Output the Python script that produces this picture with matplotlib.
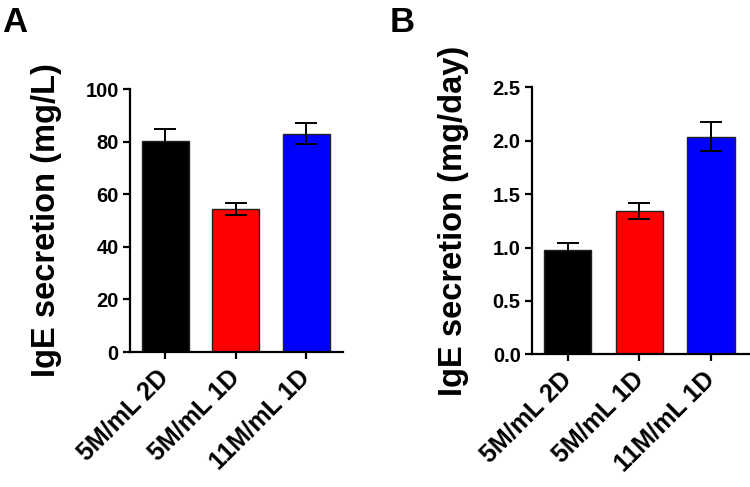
import matplotlib
matplotlib.use('Agg')
import matplotlib.pyplot as plt
import numpy as np

plt.rcParams['font.family'] = ['Liberation Sans', 'DejaVu Sans']
plt.rcParams['font.weight'] = 'bold'

groups = ['5M/mL 2D', '5M/mL 1D', '11M/mL 1D']
colors = ['#000000', '#ff0000', '#0000ff']

# panel A: IgE concentration (mg/L)
conc_mean = [80.3, 54.5, 83.0]
conc_err = [4.5, 2.3, 4.0]

# panel B: IgE production rate (mg/day)
rate_mean = [0.98, 1.34, 2.04]
rate_err = [0.065, 0.076, 0.135]


def draw_panel(ax, means, errs, ylim, yticks, yfmt, ylabel):
    x = np.arange(len(groups))
    ax.bar(x, means, width=0.66, color=colors, edgecolor='#222222', linewidth=1.0, zorder=2)
    ax.errorbar(x, means, yerr=errs, fmt='none', ecolor='black', elinewidth=1.4,
                capsize=8, capthick=1.4, zorder=3)
    ax.set_xlim(-0.5, 2.52)
    ax.set_ylim(*ylim)
    ax.set_yticks(yticks)
    ax.set_yticklabels([yfmt % v for v in yticks])
    ax.set_xticks(x)
    ax.set_xticklabels(groups, rotation=45, ha='right', va='center', rotation_mode='anchor')
    for s in ['top', 'right']:
        ax.spines[s].set_visible(False)
    for s in ['left', 'bottom']:
        ax.spines[s].set_linewidth(1.6)
    ax.tick_params(width=1.6, length=5)
    ax.tick_params(axis='y', labelsize=14.5, pad=3)
    ax.tick_params(axis='x', labelsize=18, pad=10.5)
    ax.set_ylabel(ylabel, fontsize=23.5, fontweight='bold', labelpad=17)


fig = plt.figure(figsize=(7.5, 4.87), dpi=100)
ax1 = fig.add_axes([0.1733, 0.2772, 0.284, 0.540])
ax2 = fig.add_axes([0.709, 0.2725, 0.289, 0.548])

draw_panel(ax1, conc_mean, conc_err, (0, 100), [0, 20, 40, 60, 80, 100], '%d',
           'IgE secretion (mg/L)')
draw_panel(ax2, rate_mean, rate_err, (0, 2.5), [0.0, 0.5, 1.0, 1.5, 2.0, 2.5], '%.1f',
           'IgE secretion (mg/day)')

fig.text(0.003, 0.935, 'A', fontsize=25, fontweight='bold')
fig.text(0.519, 0.935, 'B', fontsize=25, fontweight='bold')

fig.savefig('out.png', dpi=100)
